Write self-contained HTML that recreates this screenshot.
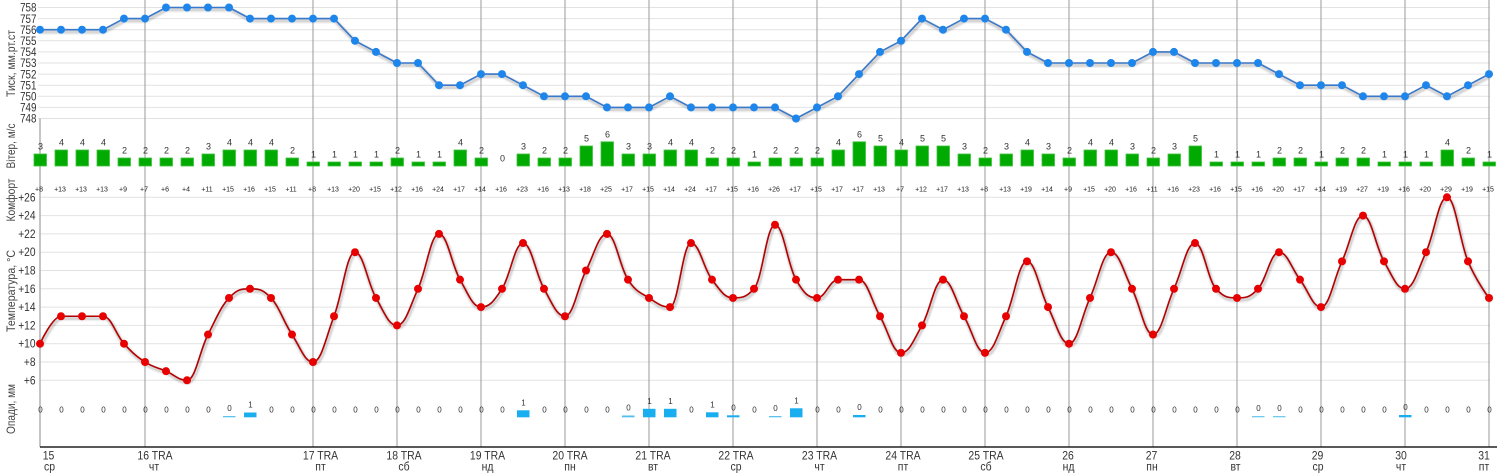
<!DOCTYPE html>
<html><head><meta charset="utf-8">
<style>
html,body{margin:0;padding:0;background:#fff;}
svg{display:block;font-family:"Liberation Sans",Arial,sans-serif;}
.w{font-size:9px;fill:#333;text-anchor:middle}
.c{font-size:7px;fill:#222;text-anchor:middle}
.p{font-size:8px;fill:#333;text-anchor:middle}
.ax{font-size:12px;fill:#333;text-anchor:end}
.d{font-size:12px;fill:#333;text-anchor:middle}
.t{font-size:12px;fill:#444;text-anchor:middle}
</style></head><body>
<svg width="1499" height="475" viewBox="0 0 1499 475" xmlns="http://www.w3.org/2000/svg">
<rect width="1499" height="475" fill="#fff"/>
<!-- grid -->
<path d="M38 7.5H1490M38 18.6H1490M38 29.7H1490M38 40.8H1490M38 51.9H1490M38 63H1490M38 74.1H1490M38 85.2H1490M38 96.3H1490M38 107.4H1490M38 118.5H1490" stroke="#e2e2e2" stroke-width="1" fill="none"/>
<path d="M40 197.3H1490M40 215.6H1490M40 233.9H1490M40 252.2H1490M40 270.5H1490M40 288.8H1490M40 307.1H1490M40 325.4H1490M40 343.7H1490M40 362H1490M40 380.3H1490" stroke="#e2e2e2" stroke-width="1" fill="none"/>
<!-- day lines -->
<path d="M145 0V447M313 0V447M397 0V447M481 0V447M565 0V447M649 0V447M733 0V447M817 0V447M901 0V447M985 0V447M1069 0V447M1153 0V447M1237 0V447M1321 0V447M1405 0V447M1489 0V447" stroke="#999" stroke-width="1" fill="none"/>
<path d="M40 118.5V447" stroke="#b5b5b5" stroke-width="1.6"/>
<path d="M40 447H1497" stroke="#222" stroke-width="1.5"/>

<!-- axis titles -->
<text class="t" transform="translate(15,63.5) rotate(-90)" textLength="67" lengthAdjust="spacingAndGlyphs">Тиск, мм.рт.ст</text>
<text class="t" transform="translate(15,146) rotate(-90)" textLength="45" lengthAdjust="spacingAndGlyphs">Вітер, м/с</text>
<text class="t" transform="translate(15,200) rotate(-90)" textLength="43" lengthAdjust="spacingAndGlyphs">Комфорт</text>
<text class="t" transform="translate(15,291) rotate(-90)" textLength="82" lengthAdjust="spacingAndGlyphs">Температура, °С</text>
<text class="t" transform="translate(15,409) rotate(-90)" textLength="50" lengthAdjust="spacingAndGlyphs">Опади, мм</text>

<!-- pressure axis labels -->
<g class="ax">
<text transform="translate(36.5,11.7) scale(.82,1)">758</text>
<text transform="translate(36.5,22.8) scale(.82,1)">757</text>
<text transform="translate(36.5,33.9) scale(.82,1)">756</text>
<text transform="translate(36.5,45) scale(.82,1)">755</text>
<text transform="translate(36.5,56.1) scale(.82,1)">754</text>
<text transform="translate(36.5,67.2) scale(.82,1)">753</text>
<text transform="translate(36.5,78.3) scale(.82,1)">752</text>
<text transform="translate(36.5,89.4) scale(.82,1)">751</text>
<text transform="translate(36.5,100.5) scale(.82,1)">750</text>
<text transform="translate(36.5,111.6) scale(.82,1)">749</text>
<text transform="translate(36.5,122.7) scale(.82,1)">748</text>
</g>
<!-- temperature axis labels -->
<g class="ax">
<text transform="translate(35.5,201.3) scale(.85,1)">+26</text>
<text transform="translate(35.5,219.6) scale(.85,1)">+24</text>
<text transform="translate(35.5,237.9) scale(.85,1)">+22</text>
<text transform="translate(35.5,256.2) scale(.85,1)">+20</text>
<text transform="translate(35.5,274.5) scale(.85,1)">+18</text>
<text transform="translate(35.5,292.8) scale(.85,1)">+16</text>
<text transform="translate(35.5,311.1) scale(.85,1)">+14</text>
<text transform="translate(35.5,329.4) scale(.85,1)">+12</text>
<text transform="translate(35.5,347.7) scale(.85,1)">+10</text>
<text transform="translate(35.5,366) scale(.85,1)">+8</text>
<text transform="translate(35.5,384.3) scale(.85,1)">+6</text>
</g>

<!-- pressure line -->
<g fill="none" stroke-linejoin="round">
<polyline transform="translate(1,2)" stroke="#000" stroke-opacity=".06" stroke-width="6" points="40,29.7 61,29.7 82,29.7 103,29.7 124,18.6 145,18.6 166,7.5 187,7.5 208,7.5 229,7.5 250,18.6 271,18.6 292,18.6 313,18.6 334,18.6 355,40.8 376,51.9 397,63 418,63 439,85.2 460,85.2 481,74.1 502,74.1 523,85.2 544,96.3 565,96.3 586,96.3 607,107.4 628,107.4 649,107.4 670,96.3 691,107.4 712,107.4 733,107.4 754,107.4 775,107.4 796,118.5 817,107.4 838,96.3 859,74.1 880,51.9 901,40.8 922,18.6 943,29.7 964,18.6 985,18.6 1006,29.7 1027,51.9 1048,63 1069,63 1090,63 1111,63 1132,63 1153,51.9 1174,51.9 1195,63 1216,63 1237,63 1258,63 1279,74.1 1300,85.2 1321,85.2 1342,85.2 1363,96.3 1384,96.3 1405,96.3 1426,85.2 1447,96.3 1468,85.2 1489,74.1"/>
<polyline transform="translate(1,2)" stroke="#000" stroke-opacity=".1" stroke-width="3.5" points="40,29.7 61,29.7 82,29.7 103,29.7 124,18.6 145,18.6 166,7.5 187,7.5 208,7.5 229,7.5 250,18.6 271,18.6 292,18.6 313,18.6 334,18.6 355,40.8 376,51.9 397,63 418,63 439,85.2 460,85.2 481,74.1 502,74.1 523,85.2 544,96.3 565,96.3 586,96.3 607,107.4 628,107.4 649,107.4 670,96.3 691,107.4 712,107.4 733,107.4 754,107.4 775,107.4 796,118.5 817,107.4 838,96.3 859,74.1 880,51.9 901,40.8 922,18.6 943,29.7 964,18.6 985,18.6 1006,29.7 1027,51.9 1048,63 1069,63 1090,63 1111,63 1132,63 1153,51.9 1174,51.9 1195,63 1216,63 1237,63 1258,63 1279,74.1 1300,85.2 1321,85.2 1342,85.2 1363,96.3 1384,96.3 1405,96.3 1426,85.2 1447,96.3 1468,85.2 1489,74.1"/>
<polyline stroke="#3a78c9" stroke-width="1.6" points="40,29.7 61,29.7 82,29.7 103,29.7 124,18.6 145,18.6 166,7.5 187,7.5 208,7.5 229,7.5 250,18.6 271,18.6 292,18.6 313,18.6 334,18.6 355,40.8 376,51.9 397,63 418,63 439,85.2 460,85.2 481,74.1 502,74.1 523,85.2 544,96.3 565,96.3 586,96.3 607,107.4 628,107.4 649,107.4 670,96.3 691,107.4 712,107.4 733,107.4 754,107.4 775,107.4 796,118.5 817,107.4 838,96.3 859,74.1 880,51.9 901,40.8 922,18.6 943,29.7 964,18.6 985,18.6 1006,29.7 1027,51.9 1048,63 1069,63 1090,63 1111,63 1132,63 1153,51.9 1174,51.9 1195,63 1216,63 1237,63 1258,63 1279,74.1 1300,85.2 1321,85.2 1342,85.2 1363,96.3 1384,96.3 1405,96.3 1426,85.2 1447,96.3 1468,85.2 1489,74.1"/>
</g>
<g fill="#1e86ea">
<circle cx="40" cy="29.7" r="4"/><circle cx="61" cy="29.7" r="4"/><circle cx="82" cy="29.7" r="4"/><circle cx="103" cy="29.7" r="4"/><circle cx="124" cy="18.6" r="4"/><circle cx="145" cy="18.6" r="4"/><circle cx="166" cy="7.5" r="4"/><circle cx="187" cy="7.5" r="4"/><circle cx="208" cy="7.5" r="4"/><circle cx="229" cy="7.5" r="4"/><circle cx="250" cy="18.6" r="4"/><circle cx="271" cy="18.6" r="4"/><circle cx="292" cy="18.6" r="4"/><circle cx="313" cy="18.6" r="4"/><circle cx="334" cy="18.6" r="4"/><circle cx="355" cy="40.8" r="4"/><circle cx="376" cy="51.9" r="4"/><circle cx="397" cy="63" r="4"/><circle cx="418" cy="63" r="4"/><circle cx="439" cy="85.2" r="4"/><circle cx="460" cy="85.2" r="4"/><circle cx="481" cy="74.1" r="4"/><circle cx="502" cy="74.1" r="4"/><circle cx="523" cy="85.2" r="4"/><circle cx="544" cy="96.3" r="4"/><circle cx="565" cy="96.3" r="4"/><circle cx="586" cy="96.3" r="4"/><circle cx="607" cy="107.4" r="4"/><circle cx="628" cy="107.4" r="4"/><circle cx="649" cy="107.4" r="4"/><circle cx="670" cy="96.3" r="4"/><circle cx="691" cy="107.4" r="4"/><circle cx="712" cy="107.4" r="4"/><circle cx="733" cy="107.4" r="4"/><circle cx="754" cy="107.4" r="4"/><circle cx="775" cy="107.4" r="4"/><circle cx="796" cy="118.5" r="4"/><circle cx="817" cy="107.4" r="4"/><circle cx="838" cy="96.3" r="4"/><circle cx="859" cy="74.1" r="4"/><circle cx="880" cy="51.9" r="4"/><circle cx="901" cy="40.8" r="4"/><circle cx="922" cy="18.6" r="4"/><circle cx="943" cy="29.7" r="4"/><circle cx="964" cy="18.6" r="4"/><circle cx="985" cy="18.6" r="4"/><circle cx="1006" cy="29.7" r="4"/><circle cx="1027" cy="51.9" r="4"/><circle cx="1048" cy="63" r="4"/><circle cx="1069" cy="63" r="4"/><circle cx="1090" cy="63" r="4"/><circle cx="1111" cy="63" r="4"/><circle cx="1132" cy="63" r="4"/><circle cx="1153" cy="51.9" r="4"/><circle cx="1174" cy="51.9" r="4"/><circle cx="1195" cy="63" r="4"/><circle cx="1216" cy="63" r="4"/><circle cx="1237" cy="63" r="4"/><circle cx="1258" cy="63" r="4"/><circle cx="1279" cy="74.1" r="4"/><circle cx="1300" cy="85.2" r="4"/><circle cx="1321" cy="85.2" r="4"/><circle cx="1342" cy="85.2" r="4"/><circle cx="1363" cy="96.3" r="4"/><circle cx="1384" cy="96.3" r="4"/><circle cx="1405" cy="96.3" r="4"/><circle cx="1426" cy="85.2" r="4"/><circle cx="1447" cy="96.3" r="4"/><circle cx="1468" cy="85.2" r="4"/><circle cx="1489" cy="74.1" r="4"/>
</g>

<!-- wind bars -->
<g fill="#00aa00" stroke="#3cc43c" stroke-width="0.8">
<rect x="34" y="154" width="12.5" height="12"/><rect x="55" y="150" width="12.5" height="16"/><rect x="76" y="150" width="12.5" height="16"/><rect x="97" y="150" width="12.5" height="16"/><rect x="118" y="158" width="12.5" height="8"/><rect x="139" y="158" width="12.5" height="8"/><rect x="160" y="158" width="12.5" height="8"/><rect x="181" y="158" width="12.5" height="8"/><rect x="202" y="154" width="12.5" height="12"/><rect x="223" y="150" width="12.5" height="16"/><rect x="244" y="150" width="12.5" height="16"/><rect x="265" y="150" width="12.5" height="16"/><rect x="286" y="158" width="12.5" height="8"/><rect x="307" y="162" width="12.5" height="4"/><rect x="328" y="162" width="12.5" height="4"/><rect x="349" y="162" width="12.5" height="4"/><rect x="370" y="162" width="12.5" height="4"/><rect x="391" y="158" width="12.5" height="8"/><rect x="412" y="162" width="12.5" height="4"/><rect x="433" y="162" width="12.5" height="4"/><rect x="454" y="150" width="12.5" height="16"/><rect x="475" y="158" width="12.5" height="8"/><rect x="517" y="154" width="12.5" height="12"/><rect x="538" y="158" width="12.5" height="8"/><rect x="559" y="158" width="12.5" height="8"/><rect x="580" y="146" width="12.5" height="20"/><rect x="601" y="141.8" width="12.5" height="24.2"/><rect x="622" y="154" width="12.5" height="12"/><rect x="643" y="154" width="12.5" height="12"/><rect x="664" y="150" width="12.5" height="16"/><rect x="685" y="150" width="12.5" height="16"/><rect x="706" y="158" width="12.5" height="8"/><rect x="727" y="158" width="12.5" height="8"/><rect x="748" y="162" width="12.5" height="4"/><rect x="769" y="158" width="12.5" height="8"/><rect x="790" y="158" width="12.5" height="8"/><rect x="811" y="158" width="12.5" height="8"/><rect x="832" y="150" width="12.5" height="16"/><rect x="853" y="141.8" width="12.5" height="24.2"/><rect x="874" y="146" width="12.5" height="20"/><rect x="895" y="150" width="12.5" height="16"/><rect x="916" y="146" width="12.5" height="20"/><rect x="937" y="146" width="12.5" height="20"/><rect x="958" y="154" width="12.5" height="12"/><rect x="979" y="158" width="12.5" height="8"/><rect x="1000" y="154" width="12.5" height="12"/><rect x="1021" y="150" width="12.5" height="16"/><rect x="1042" y="154" width="12.5" height="12"/><rect x="1063" y="158" width="12.5" height="8"/><rect x="1084" y="150" width="12.5" height="16"/><rect x="1105" y="150" width="12.5" height="16"/><rect x="1126" y="154" width="12.5" height="12"/><rect x="1147" y="158" width="12.5" height="8"/><rect x="1168" y="154" width="12.5" height="12"/><rect x="1189" y="146" width="12.5" height="20"/><rect x="1210" y="162" width="12.5" height="4"/><rect x="1231" y="162" width="12.5" height="4"/><rect x="1252" y="162" width="12.5" height="4"/><rect x="1273" y="158" width="12.5" height="8"/><rect x="1294" y="158" width="12.5" height="8"/><rect x="1315" y="162" width="12.5" height="4"/><rect x="1336" y="158" width="12.5" height="8"/><rect x="1357" y="158" width="12.5" height="8"/><rect x="1378" y="162" width="12.5" height="4"/><rect x="1399" y="162" width="12.5" height="4"/><rect x="1420" y="162" width="12.5" height="4"/><rect x="1441" y="150" width="12.5" height="16"/><rect x="1462" y="158" width="12.5" height="8"/><rect x="1483" y="162" width="12.5" height="4"/>
</g>
<g class="w">
<text x="40.5" y="149.5">3</text><text x="61.5" y="145.5">4</text><text x="82.5" y="145.5">4</text><text x="103.5" y="145.5">4</text><text x="124.5" y="153.5">2</text><text x="145.5" y="153.5">2</text><text x="166.5" y="153.5">2</text><text x="187.5" y="153.5">2</text><text x="208.5" y="149.5">3</text><text x="229.5" y="145.5">4</text><text x="250.5" y="145.5">4</text><text x="271.5" y="145.5">4</text><text x="292.5" y="153.5">2</text><text x="313.5" y="157.5">1</text><text x="334.5" y="157.5">1</text><text x="355.5" y="157.5">1</text><text x="376.5" y="157.5">1</text><text x="397.5" y="153.5">2</text><text x="418.5" y="157.5">1</text><text x="439.5" y="157.5">1</text><text x="460.5" y="145.5">4</text><text x="481.5" y="153.5">2</text><text x="502.5" y="161.5">0</text><text x="523.5" y="149.5">3</text><text x="544.5" y="153.5">2</text><text x="565.5" y="153.5">2</text><text x="586.5" y="141.5">5</text><text x="607.5" y="137.5">6</text><text x="628.5" y="149.5">3</text><text x="649.5" y="149.5">3</text><text x="670.5" y="145.5">4</text><text x="691.5" y="145.5">4</text><text x="712.5" y="153.5">2</text><text x="733.5" y="153.5">2</text><text x="754.5" y="157.5">1</text><text x="775.5" y="153.5">2</text><text x="796.5" y="153.5">2</text><text x="817.5" y="153.5">2</text><text x="838.5" y="145.5">4</text><text x="859.5" y="137.5">6</text><text x="880.5" y="141.5">5</text><text x="901.5" y="145.5">4</text><text x="922.5" y="141.5">5</text><text x="943.5" y="141.5">5</text><text x="964.5" y="149.5">3</text><text x="985.5" y="153.5">2</text><text x="1006.5" y="149.5">3</text><text x="1027.5" y="145.5">4</text><text x="1048.5" y="149.5">3</text><text x="1069.5" y="153.5">2</text><text x="1090.5" y="145.5">4</text><text x="1111.5" y="145.5">4</text><text x="1132.5" y="149.5">3</text><text x="1153.5" y="153.5">2</text><text x="1174.5" y="149.5">3</text><text x="1195.5" y="141.5">5</text><text x="1216.5" y="157.5">1</text><text x="1237.5" y="157.5">1</text><text x="1258.5" y="157.5">1</text><text x="1279.5" y="153.5">2</text><text x="1300.5" y="153.5">2</text><text x="1321.5" y="157.5">1</text><text x="1342.5" y="153.5">2</text><text x="1363.5" y="153.5">2</text><text x="1384.5" y="157.5">1</text><text x="1405.5" y="157.5">1</text><text x="1426.5" y="157.5">1</text><text x="1447.5" y="145.5">4</text><text x="1468.5" y="153.5">2</text><text x="1489.5" y="157.5">1</text>
</g>

<!-- comfort -->
<g class="c">
<text x="39" y="191.5">+8</text><text x="60" y="191.5">+13</text><text x="81" y="191.5">+13</text><text x="102" y="191.5">+13</text><text x="123" y="191.5">+9</text><text x="144" y="191.5">+7</text><text x="165" y="191.5">+6</text><text x="186" y="191.5">+4</text><text x="207" y="191.5">+11</text><text x="228" y="191.5">+15</text><text x="249" y="191.5">+16</text><text x="270" y="191.5">+15</text><text x="291" y="191.5">+11</text><text x="312" y="191.5">+8</text><text x="333" y="191.5">+13</text><text x="354" y="191.5">+20</text><text x="375" y="191.5">+15</text><text x="396" y="191.5">+12</text><text x="417" y="191.5">+16</text><text x="438" y="191.5">+24</text><text x="459" y="191.5">+17</text><text x="480" y="191.5">+14</text><text x="501" y="191.5">+16</text><text x="522" y="191.5">+23</text><text x="543" y="191.5">+16</text><text x="564" y="191.5">+13</text><text x="585" y="191.5">+18</text><text x="606" y="191.5">+25</text><text x="627" y="191.5">+17</text><text x="648" y="191.5">+15</text><text x="669" y="191.5">+14</text><text x="690" y="191.5">+24</text><text x="711" y="191.5">+17</text><text x="732" y="191.5">+15</text><text x="753" y="191.5">+16</text><text x="774" y="191.5">+26</text><text x="795" y="191.5">+17</text><text x="816" y="191.5">+15</text><text x="837" y="191.5">+17</text><text x="858" y="191.5">+17</text><text x="879" y="191.5">+13</text><text x="900" y="191.5">+7</text><text x="921" y="191.5">+12</text><text x="942" y="191.5">+17</text><text x="963" y="191.5">+13</text><text x="984" y="191.5">+8</text><text x="1005" y="191.5">+13</text><text x="1026" y="191.5">+19</text><text x="1047" y="191.5">+14</text><text x="1068" y="191.5">+9</text><text x="1089" y="191.5">+15</text><text x="1110" y="191.5">+20</text><text x="1131" y="191.5">+16</text><text x="1152" y="191.5">+11</text><text x="1173" y="191.5">+16</text><text x="1194" y="191.5">+23</text><text x="1215" y="191.5">+16</text><text x="1236" y="191.5">+15</text><text x="1257" y="191.5">+16</text><text x="1278" y="191.5">+20</text><text x="1299" y="191.5">+17</text><text x="1320" y="191.5">+14</text><text x="1341" y="191.5">+19</text><text x="1362" y="191.5">+27</text><text x="1383" y="191.5">+19</text><text x="1404" y="191.5">+16</text><text x="1425" y="191.5">+20</text><text x="1446" y="191.5">+29</text><text x="1467" y="191.5">+19</text><text x="1488" y="191.5">+15</text>
</g>

<!-- temperature spline -->
<defs>
<path id="tp" vector-effect="non-scaling-stroke" transform="matrix(21 0 0 -9.15 40 435.2)" d="M0,10 C0,10 0.6,13 1,13 S1.6,13 2,13 S2.6,13 3,13 S3.6,11 4,10 S4.6,8.6 5,8 S5.6,7.4 6,7 S6.6,6 7,6 S7.6,9.2 8,11 S8.6,14 9,15 S9.6,16 10,16 S10.6,16 11,15 S11.6,12.4 12,11 S12.6,8 13,8 S13.6,10.6 14,13 S14.6,20 15,20 S15.6,16.6 16,15 S16.6,12 17,12 S17.6,14 18,16 S18.6,22 19,22 S19.6,18.6 20,17 S20.6,14 21,14 S21.6,14.6 22,16 S22.6,21 23,21 S23.6,17.6 24,16 S24.6,13 25,13 S25.6,16.2 26,18 S26.6,22 27,22 S27.6,18.4 28,17 S28.6,15.6 29,15 S29.6,14 30,14 S30.6,21 31,21 S31.6,18.2 32,17 S32.6,15 33,15 S33.6,15 34,16 S34.6,23 35,23 S35.6,18.6 36,17 S36.6,15 37,15 S37.6,17 38,17 S38.6,17 39,17 S39.6,14.6 40,13 S40.6,9 41,9 S41.6,10.4 42,12 S42.6,17 43,17 S43.6,14.6 44,13 S44.6,9 45,9 S45.6,11 46,13 S46.6,19 47,19 S47.6,15.8 48,14 S48.6,10 49,10 S49.6,13 50,15 S50.6,20 51,20 S51.6,17.8 52,16 S52.6,11 53,11 S53.6,14 54,16 S54.6,21 55,21 S55.6,17 56,16 S56.6,15 57,15 S57.6,15 58,16 S58.6,20 59,20 S59.6,18.2 60,17 S60.6,14 61,14 S61.6,17 62,19 S62.6,24 63,24 S63.6,20.6 64,19 S64.6,16 65,16 S65.6,18 66,20 S66.6,26 67,26 S67.6,21.2 68,19 S69,15 69,15"/>
</defs>
<g fill="none" stroke-linejoin="round" stroke-linecap="round">
<g transform="translate(1,2)"><use href="#tp" stroke="#000" stroke-opacity=".06" stroke-width="6"/></g>
<g transform="translate(1,2)"><use href="#tp" stroke="#000" stroke-opacity=".1" stroke-width="3.5"/></g>
<use href="#tp" stroke="#b40000" stroke-width="1.6"/>
</g>
<g fill="#e80000">
<circle cx="40" cy="343.7" r="4"/><circle cx="61" cy="316.25" r="4"/><circle cx="82" cy="316.25" r="4"/><circle cx="103" cy="316.25" r="4"/><circle cx="124" cy="343.7" r="4"/><circle cx="145" cy="362" r="4"/><circle cx="166" cy="371.15" r="4"/><circle cx="187" cy="380.3" r="4"/><circle cx="208" cy="334.55" r="4"/><circle cx="229" cy="297.95" r="4"/><circle cx="250" cy="288.8" r="4"/><circle cx="271" cy="297.95" r="4"/><circle cx="292" cy="334.55" r="4"/><circle cx="313" cy="362" r="4"/><circle cx="334" cy="316.25" r="4"/><circle cx="355" cy="252.2" r="4"/><circle cx="376" cy="297.95" r="4"/><circle cx="397" cy="325.4" r="4"/><circle cx="418" cy="288.8" r="4"/><circle cx="439" cy="233.9" r="4"/><circle cx="460" cy="279.65" r="4"/><circle cx="481" cy="307.1" r="4"/><circle cx="502" cy="288.8" r="4"/><circle cx="523" cy="243.05" r="4"/><circle cx="544" cy="288.8" r="4"/><circle cx="565" cy="316.25" r="4"/><circle cx="586" cy="270.5" r="4"/><circle cx="607" cy="233.9" r="4"/><circle cx="628" cy="279.65" r="4"/><circle cx="649" cy="297.95" r="4"/><circle cx="670" cy="307.1" r="4"/><circle cx="691" cy="243.05" r="4"/><circle cx="712" cy="279.65" r="4"/><circle cx="733" cy="297.95" r="4"/><circle cx="754" cy="288.8" r="4"/><circle cx="775" cy="224.75" r="4"/><circle cx="796" cy="279.65" r="4"/><circle cx="817" cy="297.95" r="4"/><circle cx="838" cy="279.65" r="4"/><circle cx="859" cy="279.65" r="4"/><circle cx="880" cy="316.25" r="4"/><circle cx="901" cy="352.85" r="4"/><circle cx="922" cy="325.4" r="4"/><circle cx="943" cy="279.65" r="4"/><circle cx="964" cy="316.25" r="4"/><circle cx="985" cy="352.85" r="4"/><circle cx="1006" cy="316.25" r="4"/><circle cx="1027" cy="261.35" r="4"/><circle cx="1048" cy="307.1" r="4"/><circle cx="1069" cy="343.7" r="4"/><circle cx="1090" cy="297.95" r="4"/><circle cx="1111" cy="252.2" r="4"/><circle cx="1132" cy="288.8" r="4"/><circle cx="1153" cy="334.55" r="4"/><circle cx="1174" cy="288.8" r="4"/><circle cx="1195" cy="243.05" r="4"/><circle cx="1216" cy="288.8" r="4"/><circle cx="1237" cy="297.95" r="4"/><circle cx="1258" cy="288.8" r="4"/><circle cx="1279" cy="252.2" r="4"/><circle cx="1300" cy="279.65" r="4"/><circle cx="1321" cy="307.1" r="4"/><circle cx="1342" cy="261.35" r="4"/><circle cx="1363" cy="215.6" r="4"/><circle cx="1384" cy="261.35" r="4"/><circle cx="1405" cy="288.8" r="4"/><circle cx="1426" cy="252.2" r="4"/><circle cx="1447" cy="197.3" r="4"/><circle cx="1468" cy="261.35" r="4"/><circle cx="1489" cy="297.95" r="4"/>
</g>

<!-- precipitation bars -->
<g fill="#18aef0">
<rect x="223" y="416" width="12.5" height="1.3" fill="#5cc3ee"/>
<rect x="244" y="412.5" width="12.5" height="4.8"/>
<rect x="517" y="410.3" width="12.5" height="7"/>
<rect x="622" y="415.5" width="12.5" height="1.8" fill="#4fbdee"/>
<rect x="643" y="408.8" width="12.5" height="8.5"/>
<rect x="664" y="408.8" width="12.5" height="8.5"/>
<rect x="706" y="412.3" width="12.5" height="5"/>
<rect x="727" y="415.3" width="12.5" height="2"/>
<rect x="769" y="416" width="12.5" height="1.3" fill="#5cc3ee"/>
<rect x="790" y="408.3" width="12.5" height="9"/>
<rect x="853" y="415" width="12.5" height="2.3"/>
<rect x="1252" y="416" width="12.5" height="1.3" fill="#6fcaee"/>
<rect x="1273" y="416" width="12.5" height="1.3" fill="#6fcaee"/>
<rect x="1399" y="415" width="12.5" height="2.3"/>
</g>
<g class="p">
<text x="40.5" y="412.3">0</text><text x="61.5" y="412.3">0</text><text x="82.5" y="412.3">0</text><text x="103.5" y="412.3">0</text><text x="124.5" y="412.3">0</text><text x="145.5" y="412.3">0</text><text x="166.5" y="412.3">0</text><text x="187.5" y="412.3">0</text><text x="208.5" y="412.3">0</text><text x="229.5" y="411">0</text><text x="250.5" y="407.5">1</text><text x="271.5" y="412.3">0</text><text x="292.5" y="412.3">0</text><text x="313.5" y="412.3">0</text><text x="334.5" y="412.3">0</text><text x="355.5" y="412.3">0</text><text x="376.5" y="412.3">0</text><text x="397.5" y="412.3">0</text><text x="418.5" y="412.3">0</text><text x="439.5" y="412.3">0</text><text x="460.5" y="412.3">0</text><text x="481.5" y="412.3">0</text><text x="502.5" y="412.3">0</text><text x="523.5" y="405.3">1</text><text x="544.5" y="412.3">0</text><text x="565.5" y="412.3">0</text><text x="586.5" y="412.3">0</text><text x="607.5" y="412.3">0</text><text x="628.5" y="410.5">0</text><text x="649.5" y="403.8">1</text><text x="670.5" y="403.8">1</text><text x="691.5" y="412.3">0</text><text x="712.5" y="407.3">1</text><text x="733.5" y="410.3">0</text><text x="754.5" y="412.3">0</text><text x="775.5" y="411">0</text><text x="796.5" y="403.3">1</text><text x="817.5" y="412.3">0</text><text x="838.5" y="412.3">0</text><text x="859.5" y="410">0</text><text x="880.5" y="412.3">0</text><text x="901.5" y="412.3">0</text><text x="922.5" y="412.3">0</text><text x="943.5" y="412.3">0</text><text x="964.5" y="412.3">0</text><text x="985.5" y="412.3">0</text><text x="1006.5" y="412.3">0</text><text x="1027.5" y="412.3">0</text><text x="1048.5" y="412.3">0</text><text x="1069.5" y="412.3">0</text><text x="1090.5" y="412.3">0</text><text x="1111.5" y="412.3">0</text><text x="1132.5" y="412.3">0</text><text x="1153.5" y="412.3">0</text><text x="1174.5" y="412.3">0</text><text x="1195.5" y="412.3">0</text><text x="1216.5" y="412.3">0</text><text x="1237.5" y="412.3">0</text><text x="1258.5" y="411">0</text><text x="1279.5" y="411">0</text><text x="1300.5" y="412.3">0</text><text x="1321.5" y="412.3">0</text><text x="1342.5" y="412.3">0</text><text x="1363.5" y="412.3">0</text><text x="1384.5" y="412.3">0</text><text x="1405.5" y="410">0</text><text x="1426.5" y="412.3">0</text><text x="1447.5" y="412.3">0</text><text x="1468.5" y="412.3">0</text><text x="1489.5" y="412.3">0</text>
</g>

<!-- x axis labels -->
<g class="d">
<text transform="translate(48.5,459.3) scale(.87,1)">15</text><text transform="translate(49.5,470.5) scale(.87,1)">ср</text>
<text transform="translate(155,459.3) scale(.87,1)">16 TRA</text><text transform="translate(154,470.5) scale(.87,1)">чт</text>
<text transform="translate(320.5,459.3) scale(.87,1)">17 TRA</text><text transform="translate(320.5,470.5) scale(.87,1)">пт</text>
<text transform="translate(404,459.3) scale(.87,1)">18 TRA</text><text transform="translate(404,470.5) scale(.87,1)">сб</text>
<text transform="translate(487.5,459.3) scale(.87,1)">19 TRA</text><text transform="translate(487.5,470.5) scale(.87,1)">нд</text>
<text transform="translate(570,459.3) scale(.87,1)">20 TRA</text><text transform="translate(570,470.5) scale(.87,1)">пн</text>
<text transform="translate(653,459.3) scale(.87,1)">21 TRA</text><text transform="translate(653,470.5) scale(.87,1)">вт</text>
<text transform="translate(736,459.3) scale(.87,1)">22 TRA</text><text transform="translate(736,470.5) scale(.87,1)">ср</text>
<text transform="translate(819.5,459.3) scale(.87,1)">23 TRA</text><text transform="translate(819.5,470.5) scale(.87,1)">чт</text>
<text transform="translate(903,459.3) scale(.87,1)">24 TRA</text><text transform="translate(903,470.5) scale(.87,1)">пт</text>
<text transform="translate(986,459.3) scale(.87,1)">25 TRA</text><text transform="translate(986,470.5) scale(.87,1)">сб</text>
<text transform="translate(1068,459.3) scale(.87,1)">26</text><text transform="translate(1068.5,470.5) scale(.87,1)">нд</text>
<text transform="translate(1151.5,459.3) scale(.87,1)">27</text><text transform="translate(1152,470.5) scale(.87,1)">пн</text>
<text transform="translate(1235,459.3) scale(.87,1)">28</text><text transform="translate(1235.5,470.5) scale(.87,1)">вт</text>
<text transform="translate(1317.5,459.3) scale(.87,1)">29</text><text transform="translate(1318,470.5) scale(.87,1)">ср</text>
<text transform="translate(1401,459.3) scale(.87,1)">30</text><text transform="translate(1401,470.5) scale(.87,1)">чт</text>
<text transform="translate(1484,459.3) scale(.87,1)">31</text><text transform="translate(1484,470.5) scale(.87,1)">пт</text>
</g>
</svg>
</body></html>
